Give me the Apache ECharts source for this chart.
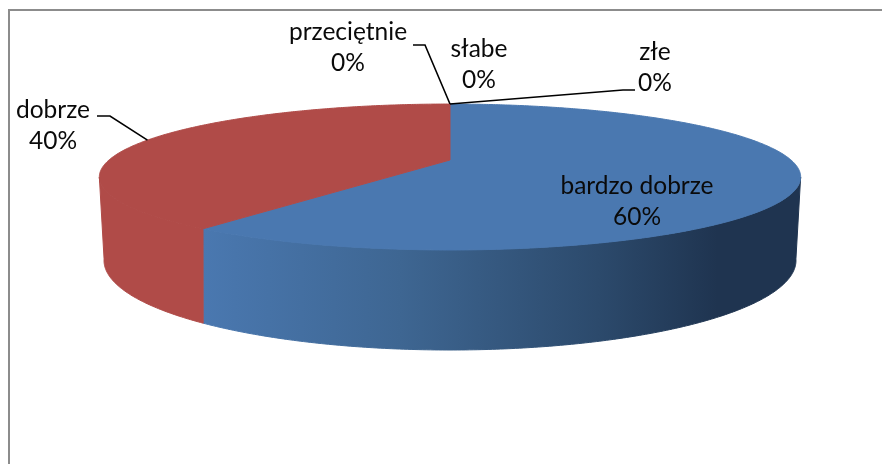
<!DOCTYPE html>
<html>
<head>
<meta charset="utf-8">
<style>
  html, body { margin: 0; padding: 0; background: #fff; }
  #chart { width: 882px; height: 464px; }
</style>
<script src="https://cdn.jsdelivr.net/npm/echarts@6/dist/echarts.min.js"></script>
</head>
<body>
<div id="chart"></div>
<script>
const categories = ['bardzo dobrze', 'dobrze', 'przeciętnie', 'słabe', 'złe']
const percents = [60, 40, 0, 0, 0]
const topColors = ['#4a78b0', '#b04b48', '#9bbb59', '#8064a2', '#4bacc6']

// where each label sits and how its leader runs [text x, first line y, elbow points]
const labelLayout = [
    { x: 637, y: 186, leader: null },
    { x: 53, y: 110, leader: [[97, 116], [110, 116]] },
    { x: 348, y: 32, leader: [[413, 45], [425, 45]] },
    { x: 479, y: 49, leader: null },
    { x: 655, y: 52, leader: [[635, 90], [623, 90]] }
]

// tilted disc: top rim and bottom rim, with a bit of perspective
const topRim = { cx: 450, cy: 160, a: 341, b: 69, p: 0.233 }
const bottomRim = { cx: 450, cy: 238, a: 335, b: 84, p: 0.25 }

function project(rim, deg) {
    const r = deg * Math.PI / 180
    const u = Math.sin(r), v = Math.cos(r)
    const k = 1 + rim.p * v
    return [rim.cx + rim.a * u / k, rim.cy - rim.b * v / k]
}

function arc(rim, from, to) {
    const pts = []
    const n = Math.max(1, Math.ceil(Math.abs(to - from) * 2))
    for (let i = 0; i <= n; i++) pts.push(project(rim, from + (to - from) * i / n))
    return pts
}

const total = percents.reduce((a, b) => a + b, 0)
const angleStart = []
let acc = 0
percents.forEach(v => { angleStart.push(acc); acc += v / total * 360 })

const sideStart = 103.5, sideEnd = 256.5

const blueSide = new echarts.graphic.LinearGradient(0, 0, 1, 0, [
    { offset: 0, color: '#4a78b0' },
    { offset: 0.33, color: '#3e6692' },
    { offset: 0.66, color: '#2c4a6c' },
    { offset: 0.86, color: '#1f3450' },
    { offset: 1, color: '#1f3450' }
])
const sideFills = [blueSide, '#b04b48', '#9bbb59', '#8064a2', '#4bacc6']

function sideItem(params, api) {
    const i = params.dataIndex
    const from = Math.max(angleStart[i], sideStart)
    const to = Math.min(angleStart[i] + api.value(0) / total * 360, sideEnd)
    if (to <= from) return null
    const pts = arc(topRim, from, to).concat(arc(bottomRim, to, from))
    // same colour stroke hides the light seam between neighbouring faces
    return { type: 'polygon', shape: { points: pts }, style: { fill: sideFills[i], stroke: sideFills[i], lineWidth: 1 }, silent: true }
}

function topItem(params, api) {
    const i = params.dataIndex
    const sweep = api.value(0) / total * 360
    if (sweep <= 0) return null
    const pts = [[topRim.cx, topRim.cy]].concat(arc(topRim, angleStart[i], angleStart[i] + sweep))
    return { type: 'polygon', shape: { points: pts }, style: { fill: topColors[i], stroke: topColors[i], lineWidth: 1 }, silent: true }
}

function labelItem(params, api) {
    const i = params.dataIndex
    const lay = labelLayout[i]
    const children = [
        { type: 'text', style: { x: lay.x, y: lay.y, text: categories[i], align: 'center', verticalAlign: 'middle',
            font: '24.5px Lato', fill: '#0a0a0a' } },
        { type: 'text', style: { x: lay.x, y: lay.y + 31, text: api.value(0) + '%', align: 'center', verticalAlign: 'middle',
            font: '24.5px Lato', fill: '#0a0a0a' } }
    ]
    if (lay.leader) {
        const mid = angleStart[i] + api.value(0) / total * 180
        children.push({
            type: 'polyline',
            shape: { points: lay.leader.concat([project(topRim, mid)]) },
            style: { fill: 'none', stroke: '#000', lineWidth: 1.6 }
        })
    }
    return { type: 'group', children: children, silent: true }
}

const chart = echarts.init(document.getElementById('chart'), null, { renderer: 'canvas' })
chart.setOption({
    animation: false,
    backgroundColor: '#fff',
    graphic: [{
        type: 'polyline',
        shape: { points: [[9, 464], [9, 10], [882, 10]] },
        style: { fill: 'none', stroke: '#8c8c8c', lineWidth: 2 },
        silent: true
    }],
    series: [
        { type: 'custom', coordinateSystem: 'none', renderItem: sideItem, data: percents, z: 1 },
        { type: 'custom', coordinateSystem: 'none', renderItem: topItem, data: percents, z: 2 },
        { type: 'custom', coordinateSystem: 'none', renderItem: labelItem, data: percents, z: 3 }
    ]
})
</script>
</body>
</html>
